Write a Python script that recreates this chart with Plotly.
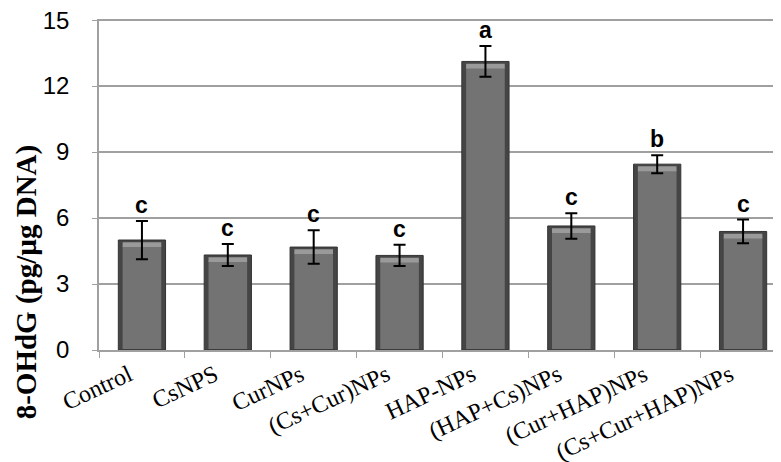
import plotly.graph_objects as go

groups = ["Control", "CsNPS", "CurNPs", "(Cs+Cur)NPs", "HAP-NPs",
          "(HAP+Cs)NPs", "(Cur+HAP)NPs", "(Cs+Cur+HAP)NPs"]
means = [5.0, 4.32, 4.68, 4.3, 13.12, 5.64, 8.45, 5.39]
errors = [0.87, 0.5, 0.76, 0.48, 0.7, 0.58, 0.41, 0.54]
letters = ["c", "c", "c", "c", "a", "c", "b", "c"]
y_ticks = [0, 3, 6, 9, 12, 15]

fig = go.Figure()
# dark outer shell of each bar (bevel edges)
fig.add_trace(go.Bar(
    x=groups, y=means, width=0.55,
    marker=dict(color="#454545", line=dict(color="#333333", width=1)),
    hoverinfo="skip",
))
# lighter face, slightly inset
fig.add_trace(go.Bar(
    x=groups, y=[m - 0.3 for m in means], base=0.05, width=0.45,
    marker=dict(color="#737373", line=dict(width=0)),
    hoverinfo="skip",
))
# light strip along the top bevel
fig.add_trace(go.Bar(
    x=groups, y=[0.22] * len(means), base=[m - 0.32 for m in means], width=0.45,
    marker=dict(color="#9a9a9a", line=dict(width=0)),
    hoverinfo="skip",
))
# error bars on top
fig.add_trace(go.Scatter(
    x=groups, y=means, mode="markers", marker=dict(size=1, color="rgba(0,0,0,0)"),
    error_y=dict(type="data", array=errors, color="black", thickness=2, width=6),
    hoverinfo="skip",
))

for g, m, e, lab in zip(groups, means, errors, letters):
    fig.add_annotation(x=g, y=m + e, text="<b>" + lab + "</b>", showarrow=False,
                       yanchor="bottom", yshift=1,
                       font=dict(family="Liberation Sans, Arial", size=23, color="black"))

fig.add_annotation(
    xref="paper", yref="paper", x=-0.106, y=0.205, textangle=-90,
    text="<b>8-OHdG (pg/µg DNA)</b>", showarrow=False,
    xanchor="center", yanchor="middle",
    font=dict(family="Liberation Serif, Times New Roman", size=29, color="black"),
)

fig.update_layout(
    width=781, height=462,
    margin=dict(l=91, r=3, t=11, b=120, autoexpand=False),
    plot_bgcolor="white", paper_bgcolor="white",
    showlegend=False,
    barmode="overlay",
)
fig.update_xaxes(
    tickangle=-25, tickson="boundaries", ticks="outside", ticklen=6,
    tickcolor="#a0a0a0", showline=True, linecolor="#a0a0a0", linewidth=1.5,
    ticklabelshift=-13, automargin=False,
    tickfont=dict(family="Liberation Serif, Times New Roman", size=24, color="black"),
)
fig.update_yaxes(
    range=[0, 15.05], tickvals=y_ticks, ticks="outside", ticklen=5,
    tickcolor="#a0a0a0", showline=True, linecolor="#a0a0a0", linewidth=1.5,
    showgrid=True, gridcolor="#a0a0a0", gridwidth=1.5, zeroline=False,
    ticklabelstandoff=18, ticklabeloverflow="allow", automargin=False,
    tickfont=dict(family="Liberation Sans, Arial", size=24, color="black"),
)

fig.write_html("out.html")
